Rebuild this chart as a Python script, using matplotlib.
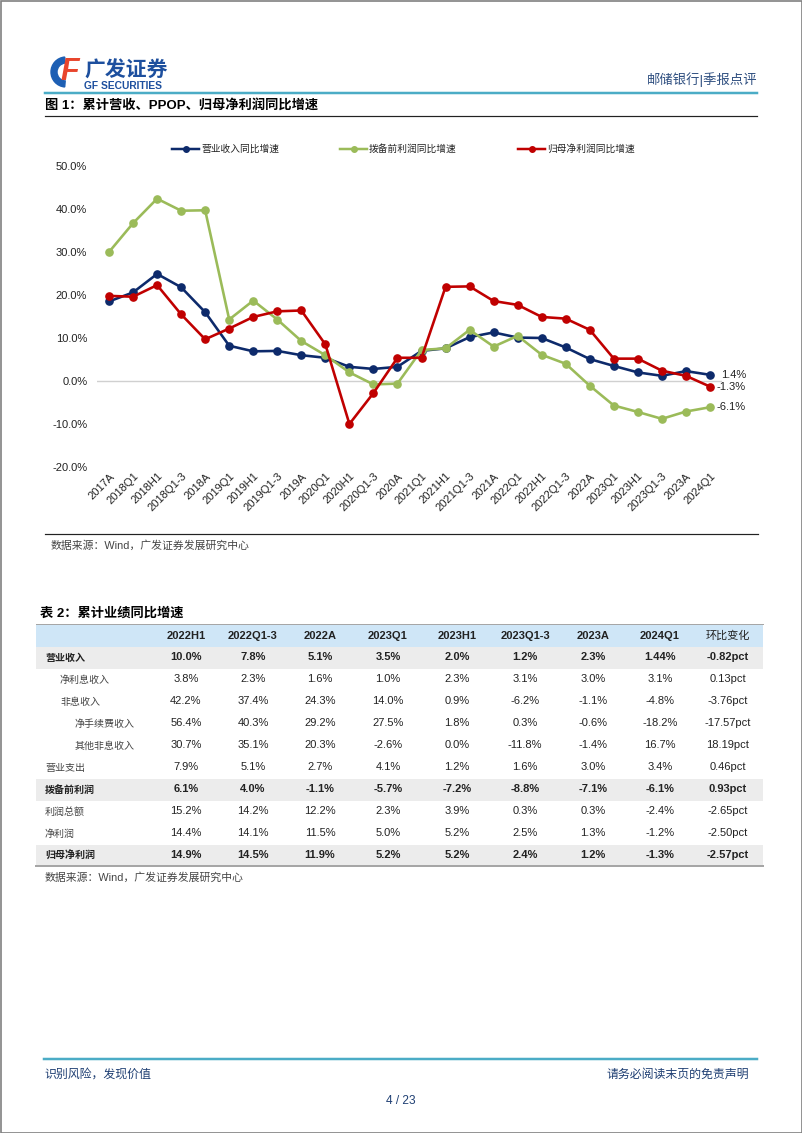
import matplotlib
matplotlib.use("Agg")
import matplotlib.pyplot as plt
from matplotlib.patches import Rectangle, Wedge
from matplotlib.ticker import FuncFormatter

plt.rcParams['font.family'] = ['Liberation Sans', 'Noto Sans CJK SC']
plt.rcParams['axes.unicode_minus'] = False

# ---- chart data (%) ----
categories = ['2017A', '2018Q1', '2018H1', '2018Q1-3', '2018A', '2019Q1', '2019H1', '2019Q1-3', '2019A',
              '2020Q1', '2020H1', '2020Q1-3', '2020A', '2021Q1', '2021H1', '2021Q1-3', '2021A',
              '2022Q1', '2022H1', '2022Q1-3', '2022A', '2023Q1', '2023H1', '2023Q1-3', '2023A', '2024Q1']
revenue = [18.5, 20.6, 24.9, 21.8, 16.0, 8.2, 6.9, 7.0, 6.0, 5.4, 3.3, 2.8, 3.3, 7.0, 7.6, 10.2, 11.3,
           10.1, 10.0, 7.8, 5.1, 3.5, 2.0, 1.2, 2.3, 1.44]
ppop = [30.0, 36.7, 42.4, 39.6, 39.7, 14.3, 18.7, 14.3, 9.3, 6.0, 2.0, -0.8, -0.6, 7.2, 7.6, 11.9, 8.0,
        10.5, 6.1, 4.0, -1.1, -5.7, -7.2, -8.8, -7.1, -6.1]
netprofit = [19.8, 19.6, 22.3, 15.5, 9.7, 12.2, 14.9, 16.2, 16.4, 8.5, -10.0, -2.8, 5.4, 5.4, 21.9, 22.0,
             18.6, 17.7, 14.9, 14.5, 11.9, 5.2, 5.2, 2.4, 1.2, -1.3]
series_names = ['营业收入同比增速', '拨备前利润同比增速', '归母净利润同比增速']
end_labels = ['1.4%', '-6.1%', '-1.3%']

# ---- table data ----
col_heads = ['2022H1', '2022Q1-3', '2022A', '2023Q1', '2023H1', '2023Q1-3', '2023A', '2024Q1', '环比变化']
row_names = ['营业收入', '净利息收入', '非息收入', '净手续费收入', '其他非息收入', '营业支出',
             '拨备前利润', '利润总额', '净利润', '归母净利润']
row_level = [0, 1, 1, 2, 2, 0, 0, 0, 0, 0]
row_bold = [True, False, False, False, False, False, True, False, False, True]
r_rev = ['10.0%', '7.8%', '5.1%', '3.5%', '2.0%', '1.2%', '2.3%', '1.44%', '-0.82pct']
r_nii = ['3.8%', '2.3%', '1.6%', '1.0%', '2.3%', '3.1%', '3.0%', '3.1%', '0.13pct']
r_nonint = ['42.2%', '37.4%', '24.3%', '14.0%', '0.9%', '-6.2%', '-1.1%', '-4.8%', '-3.76pct']
r_fee = ['56.4%', '40.3%', '29.2%', '27.5%', '1.8%', '0.3%', '-0.6%', '-18.2%', '-17.57pct']
r_other = ['30.7%', '35.1%', '20.3%', '-2.6%', '0.0%', '-11.8%', '-1.4%', '16.7%', '18.19pct']
r_opex = ['7.9%', '5.1%', '2.7%', '4.1%', '1.2%', '1.6%', '3.0%', '3.4%', '0.46pct']
r_ppop = ['6.1%', '4.0%', '-1.1%', '-5.7%', '-7.2%', '-8.8%', '-7.1%', '-6.1%', '0.93pct']
r_pbt = ['15.2%', '14.2%', '12.2%', '2.3%', '3.9%', '0.3%', '0.3%', '-2.4%', '-2.65pct']
r_np = ['14.4%', '14.1%', '11.5%', '5.0%', '5.2%', '2.5%', '1.3%', '-1.2%', '-2.50pct']
r_npp = ['14.9%', '14.5%', '11.9%', '5.2%', '5.2%', '2.4%', '1.2%', '-1.3%', '-2.57pct']
table_rows = [r_rev, r_nii, r_nonint, r_fee, r_other, r_opex, r_ppop, r_pbt, r_np, r_npp]

colors = ['#0d2a6b', '#9bbb59', '#c00000']
W, H = 802, 1133
fig = plt.figure(figsize=(W / 100, H / 100), dpi=100)

# page canvas in pixel coordinates
bg = fig.add_axes([0, 0, 1, 1])
bg.set_xlim(0, W); bg.set_ylim(H, 0); bg.axis('off')
px = 0.72  # pt per pixel

bg.add_patch(Rectangle((0.5, 0.5), W - 1, H - 1, fill=False, ec='#808080', lw=1.2))

# header / logo
bg.add_patch(Wedge((66, 72), 15, 95, 265, width=6, color='#1d5fb4'))
bg.text(60, 72, 'F', fontsize=22, fontweight='bold', style='italic', color='#e8452c', va='center', ha='left')
bg.text(84, 71, '广发证券', fontsize=15, fontweight='bold', color='#1d4f9e', va='center', ha='left')
bg.text(84, 86, 'GF SECURITIES', fontsize=7.4, fontweight='bold', color='#1d4f9e', va='center', ha='left')
bg.text(757, 80, '邮储银行|季报点评', fontsize=9.6, color='#2f4f80', va='center', ha='right')
bg.plot([45, 757], [93, 93], color='#4bacc6', lw=2.5 * px)
bg.text(45, 105, '图 1：累计营收、PPOP、归母净利润同比增速', fontsize=9.5, fontweight='bold', va='center', ha='left')
bg.plot([45, 757], [116, 116], color='#222222', lw=1.2 * px)

# legend
leg_x = [172, 340, 518]
for i in range(3):
    bg.plot([leg_x[i], leg_x[i] + 27], [149, 149], color=colors[i], lw=2.5 * px)
    bg.plot([leg_x[i] + 13.5], [149], 'o', color=colors[i], ms=4)
    bg.text(leg_x[i] + 29, 149, series_names[i], fontsize=7, va='center', ha='left', color='#222222')

# chart
ax = fig.add_axes([97 / W, 1 - 467 / H, (722 - 97) / W, (467 - 166) / H])
ax.patch.set_visible(False)
xs = list(range(len(categories)))
for vals, c in zip([revenue, ppop, netprofit], colors):
    ax.plot(xs, vals, color=c, lw=2.6 * px, marker='o', ms=5.2, zorder=3)
for vals, lab in zip([revenue, ppop, netprofit], end_labels):
    ax.annotate(lab, xy=(xs[-1], vals[-1]), xytext=(36 * px, 0), textcoords='offset points',
                ha='right', va='center', fontsize=8, color='#222222')
ax.set_xlim(-0.5, len(categories) - 0.5)
ax.set_ylim(-20, 50)
ax.set_yticks(range(-20, 51, 10))
ax.yaxis.set_major_formatter(FuncFormatter(lambda v, p: '%.1f%%' % v))
ax.axhline(0, color='#d0d0d0', lw=1, zorder=1)
for s in ax.spines.values():
    s.set_visible(False)
ax.tick_params(length=0, labelsize=8, colors='#222222')
ax.tick_params(axis='y', pad=7)
ax.set_xticks(xs)
ax.set_xticklabels(categories, rotation=45, ha='right', va='top', rotation_mode='anchor', fontsize=8)
ax.tick_params(axis='x', pad=3)

bg.plot([45, 758], [534, 534], color='#222222', lw=1.2 * px)
bg.text(51, 546, '数据来源：Wind，广发证券发展研究中心', fontsize=7.8, color='#444444', va='center', ha='left')

# table
bg.text(40, 613, '表 2：累计业绩同比增速', fontsize=9.5, fontweight='bold', va='center', ha='left')
tl, tr = 36, 763
col_x = [186, 253, 320, 388, 457, 525, 593, 660, 728]
bg.add_patch(Rectangle((tl, 624), tr - tl, 23, color='#cfe6f7', lw=0))
bg.plot([tl, tr], [624, 624], color='#a6a6a6', lw=1 * px)
for j, h in enumerate(col_heads):
    bg.text(col_x[j], 636, h, fontsize=8, fontweight='bold' if j < 8 else 'normal', ha='center', va='center',
            color='#222222')
for i, (name, vals) in enumerate(zip(row_names, table_rows)):
    yc = 657.5 + 22 * i
    if row_bold[i]:
        bg.add_patch(Rectangle((tl, yc - 11), tr - tl, 22, color='#ececec', lw=0))
    fw = 'bold' if row_bold[i] else 'normal'
    bg.text(45 + 15 * row_level[i], yc, name, fontsize=7.2, fontweight=fw, ha='left', va='center',
            color='#222222' if row_bold[i] else '#444444')
    for j, v in enumerate(vals):
        bg.text(col_x[j], yc, v, fontsize=8, fontweight=fw, ha='center', va='center', color='#222222')
bg.plot([tl, tr], [866, 866], color='#a6a6a6', lw=2 * px)
bg.text(45, 878, '数据来源：Wind，广发证券发展研究中心', fontsize=7.8, color='#444444', va='center', ha='left')

# footer
bg.plot([44, 757], [1059, 1059], color='#4bacc6', lw=2.5 * px)
bg.text(44, 1075, '识别风险，发现价值', fontsize=8.6, color='#1f3f73', va='center', ha='left')
bg.text(749, 1075, '请务必阅读末页的免责声明', fontsize=8.6, color='#1f3f73', va='center', ha='right')
bg.text(401, 1101, '4 / 23', fontsize=8.6, color='#1f3f73', va='center', ha='center')

fig.savefig('out.png', dpi=100)
